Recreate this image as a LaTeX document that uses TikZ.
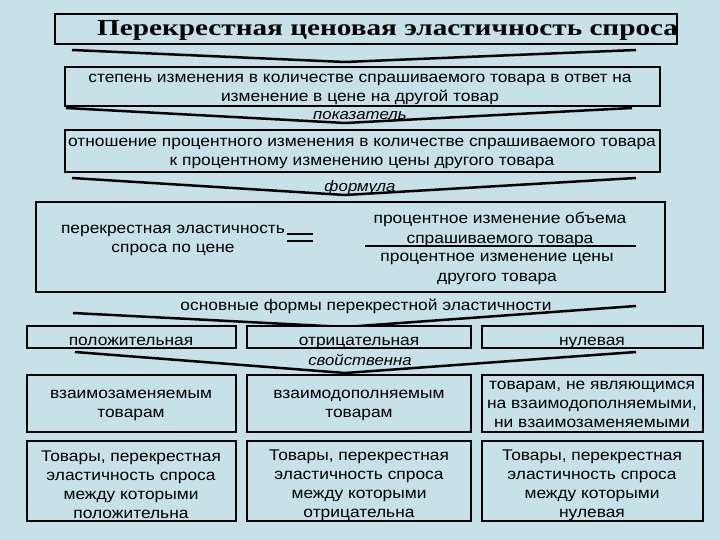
\documentclass[tikz,border=0pt]{standalone}
\usepackage{fontspec}
\setmainfont[FakeStretch=1.12]{Liberation Sans}
\newfontfamily\titlefont[FakeStretch=1.27]{Liberation Serif}
\definecolor{bg}{RGB}{198,226,232}
\begin{document}
\begin{tikzpicture}[x=1pt,y=-1pt,
  box/.style={draw=black,line width=2.5pt,fill=bg},
  txt/.style={font=\fontsize{15.5}{19}\selectfont,align=center,inner sep=0pt},
  lab/.style={font=\fontsize{15}{15}\selectfont\itshape,inner sep=0pt},
  chev/.style={line width=2.5pt}]
\fill[bg] (0,0) rectangle (720,540);
\useasboundingbox (0,0) rectangle (720,540);
% title
\draw[box] (55,14) rectangle (677,44);
\node[anchor=west,inner sep=0pt,font=\titlefont\bfseries\fontsize{23}{24}\selectfont] (title) at (97,30) {Перекрестная ценовая эластичность спроса};
\coordinate (c1) at (345,62);
\draw[chev] (72,50) -- (c1) -- (636,50);
% box 2
\draw[box] (65,67) rectangle (660,106);
\node[txt] (def) at (360,89) {степень изменения в количестве спрашиваемого товара в ответ на\\изменение в цене на другой товар};
\coordinate (c2) at (345,123);
\draw[chev] (66,108) -- (c2) -- (632,108);
\node[lab] (l1) at (360,116) {показатель};
% box 3
\draw[box] (65,130) rectangle (660,172);
\node[txt] (ind) at (362,153) {отношение процентного изменения в количестве спрашиваемого товара\\к процентному изменению цены другого товара};
\coordinate (c3) at (345,195);
\draw[chev] (72,178) -- (c3) -- (636,178);
\node[lab] (l2) at (360,188) {формула};
% formula box
\draw[box] (36,202) rectangle (665,292);
\node[txt] (lhs) at (173,240) {перекрестная эластичность\\спроса по цене};
\draw[line width=2pt] (287,234) -- (313,234) (287,241) -- (313,241);
\node[txt,font=\fontsize{15.5}{20}\selectfont] (num) at (500,229) {процентное изменение объема\\спрашиваемого товара};
\draw[line width=1.5pt] (365,246) -- (636,246);
\node[txt,font=\fontsize{15.5}{20}\selectfont] (den) at (497,269) {процентное изменение цены\\другого товара};
% chevron 4
\coordinate (c4) at (345,327);
\draw[chev] (73,313) -- (c4) -- (636,306);
\node[inner sep=1pt,font=\fontsize{15.5}{16}\selectfont] (l3) at (366,306) {основные формы перекрестной эластичности};
% row 1
\draw[box] (27,326) rectangle (236,348);
\draw[box] (247,326) rectangle (471,348);
\draw[box] (482,326) rectangle (703,348);
\node[txt,anchor=base] (p1) at (131,345) {положительная};
\node[txt,anchor=base] (p2) at (359,345) {отрицательная};
\node[txt,anchor=base] (p3) at (592,345) {нулевая};
\coordinate (c5) at (345,373);
\draw[chev] (75,352) -- (c5) -- (636,352);
\node[lab] (l4) at (360,360) {свойственна};
% row 2
\draw[box] (27,375) rectangle (236,432);
\draw[box] (247,375) rectangle (471,432);
\draw[box] (482,375) rectangle (703,432);
\node[txt] (q1) at (131,405) {взаимозаменяемым\\товарам};
\node[txt] (q2) at (359,405) {взаимодополняемым\\товарам};
\node[txt] (q3) at (592,404) {товарам, не являющимся\\на взаимодополняемыми,\\ни взаимозаменяемыми};
% row 3
\draw[box] (27,441) rectangle (236,521);
\draw[box] (247,441) rectangle (471,521);
\draw[box] (482,441) rectangle (703,521);
\node[txt] (r1) at (131,485) {Товары, перекрестная\\эластичность спроса\\между которыми\\положительна};
\node[txt] (r2) at (359,485) {Товары, перекрестная\\эластичность спроса\\между которыми\\отрицательна};
\node[txt] (r3) at (592,485) {Товары, перекрестная\\эластичность спроса\\между которыми\\нулевая};
\end{tikzpicture}
\end{document}
